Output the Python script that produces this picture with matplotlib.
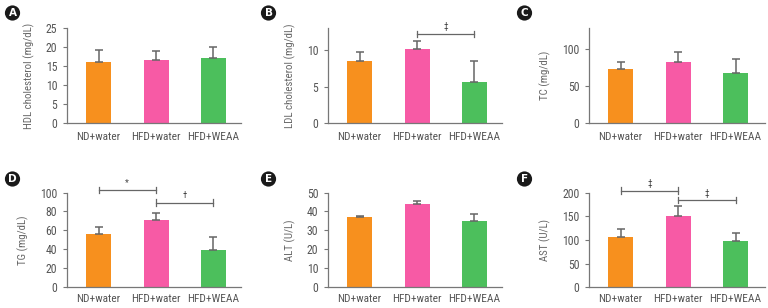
import numpy as np
import matplotlib.pyplot as plt

groups = ['ND+water', 'HFD+water', 'HFD+WEAA']
bar_colors = ['#f7901e', '#f75aa5', '#4cbf5c']

panels = ['A', 'B', 'C', 'D', 'E', 'F']
ylabels = ['HDL cholesterol (mg/dL)', 'LDL cholesterol (mg/dL)', 'TC (mg/dL)',
           'TG (mg/dL)', 'ALT (U/L)', 'AST (U/L)']

hdl = [16.2, 16.6, 17.1]
hdl_err = [2.9, 2.4, 3.0]
ldl = [8.55, 10.1, 5.7]
ldl_err = [1.2, 1.1, 2.75]
tc = [73.6, 83.0, 67.3]
tc_err = [9.4, 12.5, 19.7]
tg = [56.4, 71.3, 39.7]
tg_err = [7.4, 6.7, 13.1]
alt = [37.3, 43.9, 34.9]
alt_err = [0.5, 1.6, 3.7]
ast = [105.7, 150.0, 98.6]
ast_err = [17.9, 21.4, 15.7]

values = [hdl, ldl, tc, tg, alt, ast]
errors = [hdl_err, ldl_err, tc_err, tg_err, alt_err, ast_err]
ylims = [25, 13, 128, 100, 50, 200]
ysteps = [5, 5, 50, 20, 10, 50]

# significance marks: (panel index, group a, group b, height, symbol)
sig_marks = [
    (1, 1, 2, 12.2, '\u2021'),
    (3, 0, 1, 102.8, '*'),
    (3, 1, 2, 89.4, '\u2020'),
    (5, 0, 1, 203.6, '\u2021'),
    (5, 1, 2, 184.3, '\u2021'),
]

plt.rcParams['font.family'] = ['Roboto Condensed', 'Archivo Narrow', 'DejaVu Sans']
gray = '#555555'

W, H = 768, 308
fig = plt.figure(figsize=(W / 100, H / 100), dpi=100)

# pixel boxes: left, top, right, bottom
boxes = [(67, 28, 241, 123.3), (328, 28, 502, 123.3), (589, 28, 765, 123.3),
         (67, 192.5, 241, 287.3), (328, 192.5, 502, 287.3), (589, 192.5, 765, 287.3)]
badges = [(12.5, 13), (268.5, 13), (524.5, 13), (12.5, 179), (268.5, 179), (524.5, 179)]

x = np.arange(3)
axes = []
for i, (l, t, r, b) in enumerate(boxes):
    ax = fig.add_axes([l / W, 1 - b / H, (r - l) / W, (b - t) / H])
    axes.append(ax)
    ax.bar(x, values[i], width=0.435, color=bar_colors, zorder=2)
    ax.errorbar(x, values[i], yerr=[[0, 0, 0], errors[i]], fmt='none',
                ecolor='#666666', elinewidth=1.1, capsize=3, capthick=1.1, zorder=3)
    ax.set_xlim(-0.55, 2.48 if r - l == 174 else 2.51)
    ax.set_ylim(0, ylims[i])
    ax.set_yticks(np.arange(0, ylims[i] + 0.01, ysteps[i]))
    ax.set_xticks(x)
    ax.set_xticklabels(groups, fontsize=8.2, color=gray)
    ax.tick_params(axis='x', length=0, pad=6 if i < 3 else 4.5)
    ax.tick_params(axis='y', length=3, width=0.8, colors='#777777', labelcolor=gray,
                   labelsize=8.5, pad=4)
    ax.set_ylabel(ylabels[i], fontsize=7.8, color='#666666', labelpad=8)
    for s in ['top', 'right']:
        ax.spines[s].set_visible(False)
    for s in ['left', 'bottom']:
        ax.spines[s].set_color('#777777')
        ax.spines[s].set_linewidth(0.9)

    # panel letter badge
    cx, cy = badges[i]
    fig.text(cx / W, 1 - cy / H, panels[i], ha='center', va='center', color='white',
             fontsize=7.5, fontweight='bold', family='DejaVu Sans',
             bbox=dict(boxstyle='circle,pad=0.25', fc='#1a1a1a', ec='none'))

for pi, a, b, h, sym in sig_marks:
    ax = axes[pi]
    span = ylims[pi]
    tick = span * 0.035
    ax.plot([a, b], [h, h], color='#666666', lw=0.9, clip_on=False, zorder=4)
    for xx in (a, b):
        ax.plot([xx, xx], [h - tick, h + tick], color='#666666', lw=0.9, clip_on=False, zorder=4)
    ax.text((a + b) / 2, h + span * 0.025, sym, ha='center', va='bottom', fontsize=6.5,
            color='#444444', clip_on=False)

fig.savefig('out.png', dpi=100)
